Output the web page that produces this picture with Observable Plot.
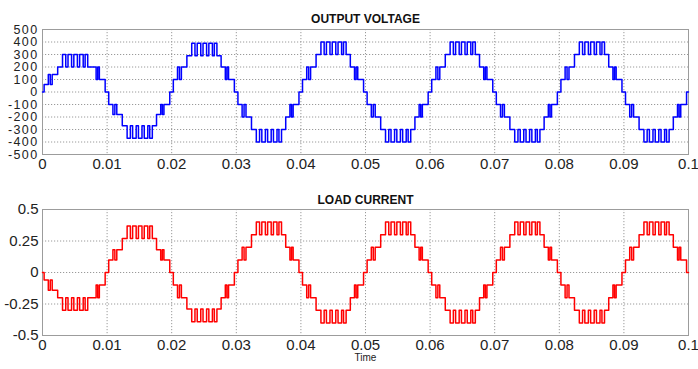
<!DOCTYPE html>
<html>
<head>
<meta charset="utf-8">
<script src="https://cdn.jsdelivr.net/npm/d3@7"></script>
<script src="https://cdn.jsdelivr.net/npm/@observablehq/plot@0.6"></script>
<style>
  html, body { margin: 0; padding: 0; background: #fff; }
  #chart { width: 698px; height: 369px; overflow: hidden; }
  #chart svg { display: block; }
</style>
</head>
<body>
<div id="chart"></div>
<script>
// Start time (s) of each half cycle of the 50 Hz output
const halfStarts = [0, 0.01, 0.02, 0.03, 0.04, 0.05, 0.06, 0.07, 0.08, 0.09];

// Staircase switching pattern inside one half cycle: [start ms, end ms, level index]
// level 0 = zero, levels 1..4 = the four DC steps of the inverter
const switchPattern = [
  [0.00, 0.25, 0], [0.25, 0.90, 1], [0.90, 1.20, 2], [1.20, 1.50, 1],
  [1.50, 2.35, 2], [2.35, 3.10, 3], [3.10, 3.60, 4], [3.60, 3.95, 3],
  [3.95, 4.50, 4], [4.50, 4.85, 3], [4.85, 5.40, 4], [5.40, 5.75, 3],
  [5.75, 6.30, 4], [6.30, 6.60, 3], [6.60, 7.00, 4], [7.00, 7.65, 3],
  [7.65, 8.30, 2], [8.30, 8.55, 1], [8.55, 8.80, 2], [8.80, 9.70, 1],
  [9.70, 10.0, 0]
];

// Output voltage step values (V) per half cycle, rising and falling edges
const voltageRise = [
  [60, 140, 200, 300], [-100, -180, -270, -370], [100, 200, 290, 390],
  [-100, -200, -300, -400], [100, 200, 300, 400], [-100, -200, -300, -400],
  [100, 200, 300, 400], [-100, -200, -300, -400], [100, 200, 300, 400],
  [-100, -200, -300, -400]
];
const voltageFall = [
  [100, 200, 200, 300], [-100, -180, -270, -370], [100, 200, 290, 390],
  [-100, -200, -300, -400], [100, 200, 300, 400], [-100, -200, -300, -400],
  [100, 200, 300, 400], [-100, -200, -300, -400], [100, 200, 300, 400],
  [-100, -200, -300, -400]
];

// Load current step values (A) per half cycle
const currentRise = [
  [-0.06, -0.14, -0.2, -0.3], [0.1, 0.18, 0.27, 0.37], [-0.1, -0.2, -0.29, -0.39],
  [0.1, 0.2, 0.3, 0.4], [-0.1, -0.2, -0.3, -0.4], [0.1, 0.2, 0.3, 0.4],
  [-0.1, -0.2, -0.3, -0.4], [0.1, 0.2, 0.3, 0.4], [-0.1, -0.2, -0.3, -0.4],
  [0.1, 0.2, 0.3, 0.4]
];
const currentFall = [
  [-0.1, -0.2, -0.2, -0.3], [0.1, 0.18, 0.27, 0.37], [-0.1, -0.2, -0.29, -0.39],
  [0.1, 0.2, 0.3, 0.4], [-0.1, -0.2, -0.3, -0.4], [0.1, 0.2, 0.3, 0.4],
  [-0.1, -0.2, -0.3, -0.4], [0.1, 0.2, 0.3, 0.4], [-0.1, -0.2, -0.3, -0.4],
  [0.1, 0.2, 0.3, 0.4]
];

const timeTicks = [0, 0.01, 0.02, 0.03, 0.04, 0.05, 0.06, 0.07, 0.08, 0.09, 0.1];
const voltageTicks = [-500, -400, -300, -200, -100, 0, 100, 200, 300, 400, 500];
const currentTicks = [-0.5, -0.25, 0, 0.25, 0.5];

// Expand the per-half-cycle step tables into a stepped waveform
function waveform(rise, fall) {
  const pts = [];
  halfStarts.forEach((t0, h) => {
    for (const [a, b, idx] of switchPattern) {
      const v = idx === 0 ? 0 : (a < 5 ? rise[h][idx - 1] : fall[h][idx - 1]);
      pts.push({t: t0 + a / 1000, v}, {t: t0 + b / 1000, v});
    }
  });
  return pts;
}

const voltage = waveform(voltageRise, voltageFall);
const current = waveform(currentRise, currentFall);

const font = "'Liberation Sans', Arial, sans-serif";
const gridStyle = {stroke: "#9a9a9a", strokeOpacity: 1, strokeDasharray: "1.2,1.8", strokeWidth: 1};

function panel({data, color, yDomain, yTicks, yFont, yLetter, title, height, marginBottom, titleDy, xLabel}) {
  const marks = [
    Plot.gridX(timeTicks, gridStyle),
    Plot.gridY(yTicks, gridStyle),
    Plot.frame({stroke: "#9c9c9c", strokeWidth: 1}),
    Plot.line(data, {x: "t", y: "v", stroke: color, strokeWidth: 1.5, curve: "linear"}),
    Plot.axisX(timeTicks, {label: null, tickSize: 0, tickPadding: 4, fontSize: 15, fill: "#222", tickFormat: d => String(d)}),
    Plot.axisY(yTicks, {label: null, tickSize: 0, tickPadding: 4, fontSize: yFont, fill: "#222", tickFormat: d => String(d)}),
    Plot.text([title], {frameAnchor: "top", dy: titleDy, fontSize: 12, fontWeight: "bold", fill: "#111"})
  ];
  if (xLabel) marks.push(Plot.text([xLabel], {frameAnchor: "bottom", dy: 25.5, fontSize: 10, fill: "#222"}));
  const svg = Plot.plot({
    width: 698,
    height,
    marginTop: 29,
    marginLeft: 42,
    marginRight: 10,
    marginBottom,
    style: {fontFamily: font, background: "#fff", overflow: "visible"},
    x: {domain: [0, 0.1], axis: null},
    y: {domain: yDomain, axis: null},
    marks
  });
  if (yLetter) {
    svg.querySelectorAll("[aria-label='y-axis tick label'] text").forEach(t => {
      t.style.letterSpacing = yLetter;
    });
  }
  return svg;
}

const chart = document.getElementById("chart");
chart.append(panel({
  data: voltage, color: "#0000ff", yDomain: [-500, 500], yTicks: voltageTicks, yFont: 12.5, yLetter: "1.4px",
  title: "OUTPUT VOLTAGE", height: 180, marginBottom: 26, titleDy: -15
}));
chart.append(panel({
  data: current, color: "#ff0000", yDomain: [-0.5, 0.5], yTicks: currentTicks, yFont: 15,
  title: "LOAD CURRENT", height: 189, marginBottom: 34, titleDy: -14, xLabel: "Time"
}));
</script>
</body>
</html>
